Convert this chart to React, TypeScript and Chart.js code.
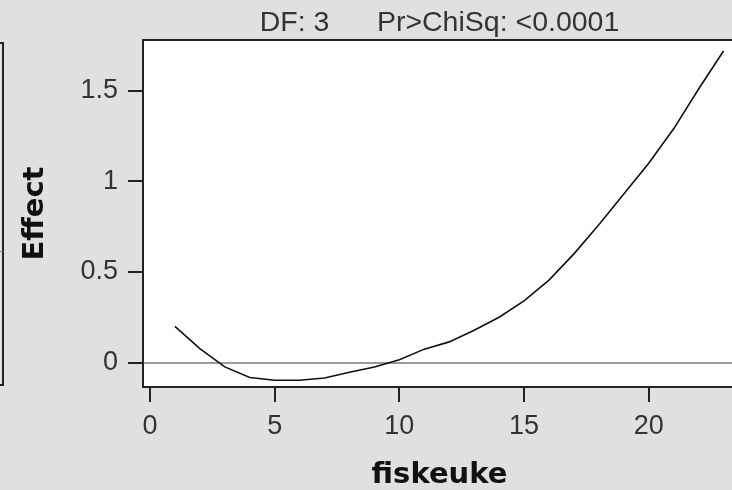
import React, { useEffect, useRef } from "react";
import { Chart, registerables } from "chart.js";

Chart.register(...registerables);

const weeks = [1, 2, 3, 4, 5, 6, 7, 8, 9, 10, 11, 12, 13, 14, 15, 16, 17, 18, 19, 20, 21, 22, 23];
const effect = [0.2, 0.077, -0.024, -0.083, -0.098, -0.098, -0.085, -0.054, -0.025, 0.015, 0.074, 0.114, 0.178, 0.25, 0.34, 0.455, 0.6, 0.76, 0.93, 1.1, 1.29, 1.51, 1.72];
const xTicks = [0, 5, 10, 15, 20];
const yTicks = [0, 0.5, 1, 1.5];
const titleText = "DF: 3      Pr>ChiSq: <0.0001";
const xTitle = "fiskeuke";
const yTitle = "Effect";

const BG = "#e0e0e0";
const DARK = "#222";

const framePlugin = {
  id: "frame",
  beforeDraw(chart: any) {
    const { ctx, chartArea } = chart;
    const { left, top, right, bottom } = chartArea;
    ctx.save();
    ctx.fillStyle = BG;
    ctx.fillRect(0, 0, chart.width, chart.height);
    ctx.fillStyle = "#ffffff";
    ctx.fillRect(left, top, right - left, bottom - top);
    ctx.restore();
  },
  afterDraw(chart: any) {
    const { ctx, chartArea } = chart;
    const { left, top, right, bottom } = chartArea;
    ctx.save();
    ctx.strokeStyle = DARK;
    ctx.lineWidth = 2;
    ctx.beginPath();
    ctx.moveTo(left - 1, top);
    ctx.lineTo(right, top);
    ctx.lineTo(right, bottom);
    ctx.stroke();
    // neighbouring panel edge on the far left
    ctx.beginPath();
    ctx.moveTo(0, 43);
    ctx.lineTo(3, 43);
    ctx.lineTo(3, 385);
    ctx.lineTo(0, 385);
    ctx.stroke();
    ctx.lineWidth = 1;
    ctx.strokeStyle = "#888";
    ctx.beginPath();
    ctx.moveTo(0, 251.5);
    ctx.lineTo(3, 251.5);
    ctx.stroke();
    ctx.restore();
  },
};

export default function App() {
  const ref = useRef<HTMLCanvasElement | null>(null);

  useEffect(() => {
    if (!ref.current) return;
    const tickFont = { family: "'Liberation Sans', Arial, sans-serif", size: 27 };
    const titleFont = { family: "'DejaVu Sans', Verdana, sans-serif", size: 29, weight: "bold" as const, lineHeight: 1 };
    const chart = new Chart(ref.current, {
      type: "line",
      data: {
        datasets: [
          {
            data: weeks.map((w, i) => ({ x: w, y: effect[i] })),
            borderColor: "#111",
            borderWidth: 1.6,
            pointRadius: 0,
            tension: 0,
            fill: false,
          },
        ],
      },
      options: {
        responsive: false,
        animation: false,
        events: [],
        layout: { padding: 0 },
        plugins: {
          legend: { display: false },
          tooltip: { enabled: false },
          title: {
            display: true,
            text: titleText,
            fullSize: false,
            color: "#333",
            font: { family: "'Liberation Sans', Arial, sans-serif", size: 28.5, weight: "normal", lineHeight: 1.15 },
            padding: { top: 7, bottom: 0.3 },
          },
        },
        scales: {
          x: {
            type: "linear",
            min: -0.28,
            max: 23.5,
            afterFit(scale: any) {
              scale.height = 103;
            },
            afterBuildTicks(scale: any) {
              scale.ticks = xTicks.map((v) => ({ value: v }));
            },
            ticks: {
              color: "#333",
              font: tickFont,
              padding: 8,
              maxRotation: 0,
              autoSkip: false,
              callback: (v: any) => String(v),
            },
            grid: {
              drawOnChartArea: false,
              drawTicks: true,
              tickLength: 15,
              color: DARK,
              lineWidth: 2,
            },
            border: { display: true, color: DARK, width: 2 },
            title: {
              display: true,
              text: xTitle,
              color: "#111",
              font: titleFont,
              padding: { top: 0, bottom: 0 },
            },
          },
          y: {
            type: "linear",
            min: -0.135,
            max: 1.78,
            afterFit(scale: any) {
              scale.width = 143;
            },
            afterBuildTicks(scale: any) {
              scale.ticks = yTicks.map((v) => ({ value: v }));
            },
            ticks: {
              color: "#333",
              font: tickFont,
              padding: 10,
              callback: (v: any) => String(v),
            },
            grid: {
              drawOnChartArea: true,
              drawTicks: true,
              tickLength: 15,
              color: (c: any) => (c.tick && c.tick.value === 0 ? "#9a9a9a" : "rgba(0,0,0,0)"),
              tickColor: DARK,
              lineWidth: 2,
            },
            border: { display: true, color: DARK, width: 2 },
            title: {
              display: true,
              text: yTitle,
              color: "#111",
              font: titleFont,
              padding: { top: 21, bottom: 0 },
            },
          },
        },
      },
      plugins: [framePlugin],
    });
    return () => chart.destroy();
  }, []);

  return (
    <div
      style={{
        position: "fixed",
        left: 0,
        top: 0,
        width: 732,
        height: 490,
        overflow: "hidden",
        background: BG,
      }}
    >
      <canvas ref={ref} width={736} height={490} style={{ display: "block" }} />
    </div>
  );
}
